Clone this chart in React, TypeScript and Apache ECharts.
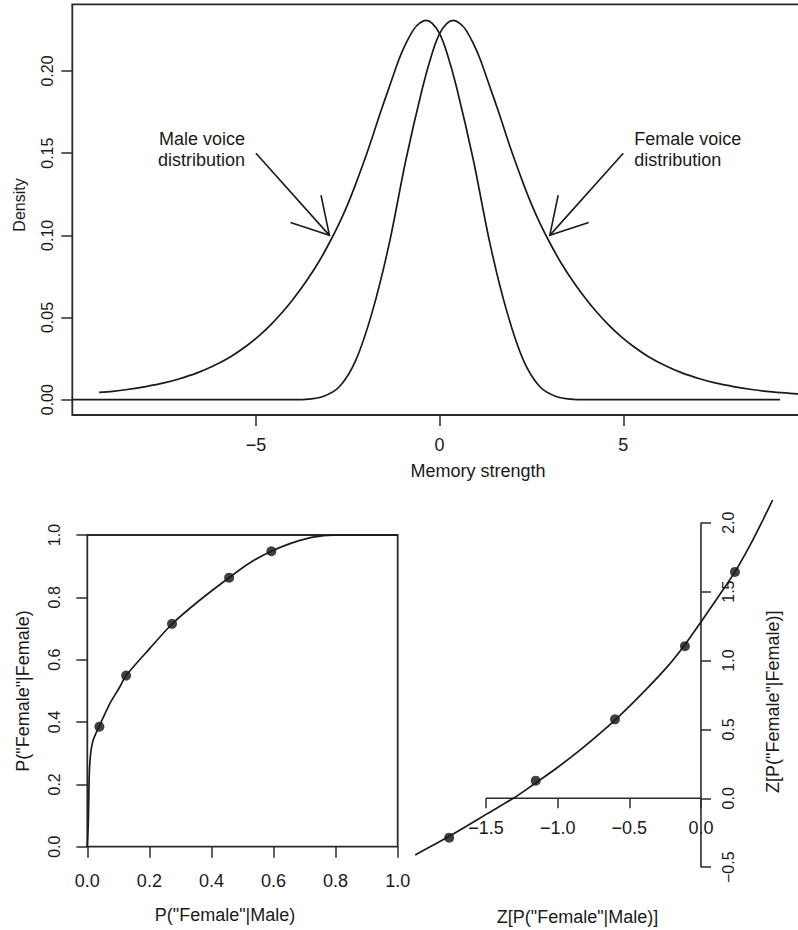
import React, { useEffect, useRef } from 'react';
import * as echarts from 'echarts';

const FONT = '"Liberation Sans", Arial, Helvetica, sans-serif';
const INK = '#1a1a1a';
const BOX = '#2b2b2b';

// ---------- Top panel: densities ----------
const densityTicksX = [-5, 0, 5];
const densityTicksY = [0, 0.05, 0.1, 0.15, 0.2];

const maleX = [-9.27, -8.9, -8.5, -8.0, -7.5, -7.1, -6.6, -6.18, -5.7, -5.27, -4.91, -4.6, -4.27, -4.0, -3.64, -3.3, -3.0, -2.73, -2.5, -2.28, -2.05, -1.82, -1.6, -1.37, -1.1, -0.92, -0.7, -0.55, -0.373, -0.2, 0, 0.2, 0.46, 0.92, 1.37, 1.82, 2.28, 2.73, 3.19, 3.64, 4.0, 4.5, 9.27];
const maleY = [0.0045, 0.0051, 0.0062, 0.008, 0.0102, 0.0126, 0.0163, 0.0203, 0.026, 0.0325, 0.039, 0.0455, 0.0535, 0.0608, 0.0718, 0.0835, 0.0955, 0.1075, 0.119, 0.1315, 0.1455, 0.1605, 0.1755, 0.1903, 0.2075, 0.2167, 0.2255, 0.229, 0.2308, 0.229, 0.2227, 0.211, 0.1903, 0.1457, 0.0951, 0.0545, 0.0241, 0.0079, 0.0018, 0.0002, 0.00003, 0, 0];

const femaleX = [-10, -4.5, -4.0, -3.64, -3.19, -2.73, -2.28, -1.82, -1.37, -0.92, -0.46, -0.2, 0, 0.2, 0.373, 0.55, 0.7, 0.92, 1.1, 1.37, 1.6, 1.82, 2.05, 2.28, 2.5, 2.73, 3.0, 3.3, 3.64, 4.0, 4.27, 4.6, 4.91, 5.27, 5.7, 6.18, 6.6, 7.1, 7.5, 8.0, 8.5, 8.9, 9.3, 9.72, 10.3, 11.0];
const femaleY = [0, 0, 0.00003, 0.0002, 0.0018, 0.0079, 0.0241, 0.0545, 0.0951, 0.1457, 0.1903, 0.211, 0.2227, 0.229, 0.2308, 0.229, 0.2255, 0.2167, 0.2075, 0.1903, 0.1755, 0.1605, 0.1455, 0.1315, 0.119, 0.1075, 0.0955, 0.0835, 0.0718, 0.0608, 0.0535, 0.0455, 0.039, 0.0325, 0.026, 0.0203, 0.0163, 0.0126, 0.0102, 0.008, 0.0062, 0.0051, 0.0043, 0.0036, 0.0029, 0.0023];

const arrowFrom = [[-5, 0.15], [5, 0.15]];
const arrowTo = [[-3, 0.1], [3, 0.1]];
const arrowLabels = ['Male voice\ndistribution', 'Female voice\ndistribution'];

// ---------- Bottom left: ROC ----------
const rocTicks = [0, 0.2, 0.4, 0.6, 0.8, 1];
const rocCurveX = [0, 0.003, 0.0045, 0.0064, 0.011, 0.019, 0.0387, 0.073, 0.105, 0.1247, 0.202, 0.273, 0.363, 0.4565, 0.524, 0.593, 0.685, 0.761, 0.846, 1.0];
const rocCurveY = [0, 0.07, 0.139, 0.235, 0.3, 0.342, 0.387, 0.46, 0.513, 0.549, 0.637, 0.7145, 0.7915, 0.863, 0.911, 0.948, 0.9826, 0.9977, 1.0, 1.0];
const rocPointX = [0.039, 0.125, 0.273, 0.457, 0.593];
const rocPointY = [0.385, 0.549, 0.715, 0.863, 0.948];

// ---------- Bottom right: zROC ----------
const zTicksX = [-1.5, -1.0, -0.5, 0];
const zTicksY = [-0.5, 0, 0.5, 1.0, 1.5, 2.0];
const zCurveX = [-1.994, -1.867, -1.757, -1.634, -1.494, -1.309, -1.169, -1.006, -0.821, -0.6, -0.425, -0.239, -0.112, 0, 0.109, 0.237, 0.342, 0.423, 0.465, 0.5];
const zCurveY = [-0.411, -0.339, -0.276, -0.201, -0.113, 0, 0.1, 0.22, 0.37, 0.568, 0.745, 0.95, 1.115, 1.28, 1.445, 1.643, 1.835, 2.0, 2.09, 2.165];
const zPointX = [-1.757, -1.153, -0.6, -0.112, 0.237];
const zPointY = [-0.286, 0.128, 0.573, 1.104, 1.643];

const pairs = (xs: number[], ys: number[]) => xs.map((x, i) => [x, ys[i]]);
const fmt = (v: number, d: number) => (v < 0 ? '\u2212' : '') + Math.abs(v).toFixed(d);

const tickStyle = { color: BOX, width: 1.5 };
const labelBase = { color: INK, fontFamily: FONT };
const noBounds = { outerBoundsMode: 'none', containLabel: false };
const hiddenAxis = { show: false, axisLine: { show: false, onZero: false }, splitLine: { show: false } };

export default function App() {
  const ref = useRef<HTMLDivElement>(null);

  useEffect(() => {
    if (!ref.current) return;
    const chart = echarts.init(ref.current, undefined, { renderer: 'svg' });

    const option: any = {
      animation: false,
      backgroundColor: '#ffffff',
      textStyle: { fontFamily: FONT },
      grid: [
        // 0: density panel (right border falls outside the picture)
        { left: 72.3, top: 4.3, width: 780, height: 410.7, show: true, borderColor: BOX, borderWidth: 1.8, ...noBounds },
        // 1: ROC panel
        { left: 87.3, top: 535, width: 310.4, height: 311.7, show: true, borderColor: BOX, borderWidth: 1.8, ...noBounds },
        // 2: zROC, region above y = 0 and left of x = 0 (hosts the x axis on y = 0)
        { left: 400, top: 500, width: 301, height: 298.3, show: false, ...noBounds },
        // 3: zROC, full height, left of x = 0 (hosts the y axis on x = 0)
        { left: 400, top: 500, width: 301, height: 380, show: false, ...noBounds },
        // 4: zROC, whole data area (hosts the curve, points and axis lines)
        { left: 400, top: 500, width: 398, height: 380, show: false, ...noBounds },
      ],
      xAxis: [
        {
          gridIndex: 0, type: 'value', min: -10, max: 11.236,
          axisLine: { show: false, onZero: false }, splitLine: { show: false },
          axisTick: { show: true, length: 11, customValues: densityTicksX, lineStyle: tickStyle },
          axisLabel: { ...labelBase, customValues: densityTicksX, fontSize: 18, margin: 21, formatter: (v: number) => fmt(v, 0) },
        },
        {
          gridIndex: 1, type: 'value', min: 0, max: 1,
          axisLine: { show: false, onZero: false }, splitLine: { show: false },
          axisTick: { show: true, length: 11, customValues: rocTicks, lineStyle: tickStyle },
          axisLabel: { ...labelBase, customValues: rocTicks, fontSize: 18, margin: 25, formatter: (v: number) => fmt(v, 1) },
        },
        {
          gridIndex: 2, type: 'value', min: -2.1, max: 0, position: 'bottom',
          axisLine: { show: false, onZero: false }, splitLine: { show: false },
          axisTick: { show: true, length: 10, customValues: zTicksX, lineStyle: tickStyle },
          axisLabel: { ...labelBase, customValues: zTicksX, fontSize: 18, margin: 21, formatter: (v: number) => fmt(v, 1) },
        },
        { gridIndex: 3, type: 'value', min: -2.1, max: 0, ...hiddenAxis },
        { gridIndex: 4, type: 'value', min: -2.1, max: 0.677, ...hiddenAxis },
      ],
      yAxis: [
        {
          gridIndex: 0, type: 'value', min: -0.00931, max: 0.2406,
          axisLine: { show: false, onZero: false }, splitLine: { show: false },
          axisTick: { show: true, length: 11, customValues: densityTicksY, lineStyle: tickStyle },
          axisLabel: { ...labelBase, customValues: densityTicksY, fontSize: 16, margin: 17, rotate: 90, formatter: (v: number) => fmt(v, 2) },
        },
        {
          gridIndex: 1, type: 'value', min: 0, max: 1,
          axisLine: { show: false, onZero: false }, splitLine: { show: false },
          axisTick: { show: true, length: 11, customValues: rocTicks, lineStyle: tickStyle },
          axisLabel: { ...labelBase, customValues: rocTicks, fontSize: 16, margin: 25, rotate: 90, formatter: (v: number) => fmt(v, 1) },
        },
        { gridIndex: 2, type: 'value', min: 0, max: 2.165, ...hiddenAxis },
        {
          gridIndex: 3, type: 'value', min: -0.593, max: 2.165, position: 'right',
          axisLine: { show: false, onZero: false }, splitLine: { show: false },
          axisTick: { show: true, length: 10, customValues: zTicksY, lineStyle: tickStyle },
          axisLabel: { ...labelBase, customValues: zTicksY, fontSize: 16, margin: 19, rotate: 90, formatter: (v: number) => fmt(v, 1) },
        },
        { gridIndex: 4, type: 'value', min: -0.593, max: 2.165, ...hiddenAxis },
      ],
      series: [
        {
          name: 'Male voice', type: 'line', xAxisIndex: 0, yAxisIndex: 0,
          data: pairs(maleX, maleY), showSymbol: false, smooth: 0.3,
          lineStyle: { color: INK, width: 1.7 }, silent: true,
        },
        {
          name: 'Female voice', type: 'line', xAxisIndex: 0, yAxisIndex: 0,
          data: pairs(femaleX, femaleY), showSymbol: false, smooth: 0.3,
          lineStyle: { color: INK, width: 1.7 }, silent: true,
        },
        {
          name: 'arrows', type: 'custom', xAxisIndex: 0, yAxisIndex: 0, silent: true,
          data: arrowFrom.map((f, i) => [f[0], f[1], arrowTo[i][0], arrowTo[i][1]]),
          encode: { x: [0, 2], y: [1, 3] },
          renderItem: (params: any, api: any) => {
            const i = params.dataIndex;
            const s = api.coord([api.value(0), api.value(1)]);
            const t = api.coord([api.value(2), api.value(3)]);
            const ang = Math.atan2(s[1] - t[1], s[0] - t[0]);
            const L = 41;
            const A = Math.PI / 6;
            const h1 = [t[0] + L * Math.cos(ang + A), t[1] + L * Math.sin(ang + A)];
            const h2 = [t[0] + L * Math.cos(ang - A), t[1] + L * Math.sin(ang - A)];
            const onLeft = s[0] < t[0];
            return {
              type: 'group',
              children: [
                { type: 'line', shape: { x1: s[0], y1: s[1], x2: t[0], y2: t[1] }, style: { stroke: INK, lineWidth: 1.6 } },
                { type: 'polyline', shape: { points: [h1, t, h2] }, style: { stroke: INK, fill: 'none', lineWidth: 1.6 } },
                {
                  type: 'text', x: s[0] + (onLeft ? -11 : 11), y: s[1] - 4,
                  style: {
                    text: arrowLabels[i], align: onLeft ? 'right' : 'left', verticalAlign: 'middle',
                    fontSize: 18, fontFamily: FONT, lineHeight: 21, fill: INK,
                  },
                },
              ],
            };
          },
        },
        {
          name: 'ROC', type: 'line', xAxisIndex: 1, yAxisIndex: 1,
          data: pairs(rocCurveX, rocCurveY), showSymbol: false, smooth: 0.25,
          lineStyle: { color: INK, width: 1.7 }, silent: true,
        },
        {
          name: 'ROC points', type: 'scatter', xAxisIndex: 1, yAxisIndex: 1,
          data: pairs(rocPointX, rocPointY), symbol: 'circle', symbolSize: 10,
          itemStyle: { color: '#111' }, silent: true,
        },
        {
          name: 'zROC x axis', type: 'line', xAxisIndex: 4, yAxisIndex: 4,
          data: [[zTicksX[0], 0], [zTicksX[zTicksX.length - 1], 0]], showSymbol: false,
          lineStyle: { color: BOX, width: 1.6 }, silent: true,
        },
        {
          name: 'zROC y axis', type: 'line', xAxisIndex: 4, yAxisIndex: 4,
          data: [[0, zTicksY[0]], [0, zTicksY[zTicksY.length - 1]]], showSymbol: false,
          lineStyle: { color: BOX, width: 1.6 }, silent: true,
        },
        {
          name: 'zROC', type: 'line', xAxisIndex: 4, yAxisIndex: 4,
          data: pairs(zCurveX, zCurveY), showSymbol: false, smooth: 0.3,
          lineStyle: { color: INK, width: 1.7 }, silent: true,
        },
        {
          name: 'zROC points', type: 'scatter', xAxisIndex: 4, yAxisIndex: 4,
          data: pairs(zPointX, zPointY), symbol: 'circle', symbolSize: 10,
          itemStyle: { color: '#111' }, silent: true,
        },
      ],
      graphic: [
        { type: 'text', x: 19.5, y: 205, rotation: Math.PI / 2, style: { text: 'Density', fontSize: 16, fontFamily: FONT, fill: INK, align: 'center', verticalAlign: 'middle' } },
        { type: 'text', x: 478, y: 471, style: { text: 'Memory strength', fontSize: 18, fontFamily: FONT, fill: INK, align: 'center', verticalAlign: 'middle' } },
        { type: 'text', x: 22.7, y: 691, rotation: Math.PI / 2, style: { text: 'P("Female"|Female)', fontSize: 18, fontFamily: FONT, fill: INK, align: 'center', verticalAlign: 'middle' } },
        { type: 'text', x: 225, y: 915, style: { text: 'P("Female"|Male)', fontSize: 18, fontFamily: FONT, fill: INK, align: 'center', verticalAlign: 'middle' } },
        { type: 'text', x: 577.5, y: 916.7, style: { text: 'Z[P("Female"|Male)]', fontSize: 18, fontFamily: FONT, fill: INK, align: 'center', verticalAlign: 'middle' } },
        { type: 'text', x: 773.3, y: 701.7, rotation: Math.PI / 2, style: { text: 'Z[P("Female"|Female)]', fontSize: 18, fontFamily: FONT, fill: INK, align: 'center', verticalAlign: 'middle' } },
      ],
    };

    chart.setOption(option);
    return () => chart.dispose();
  }, []);

  return (
    <div
      ref={ref}
      style={{ position: 'absolute', left: 0, top: 0, width: 798, height: 930, background: '#ffffff' }}
    />
  );
}
